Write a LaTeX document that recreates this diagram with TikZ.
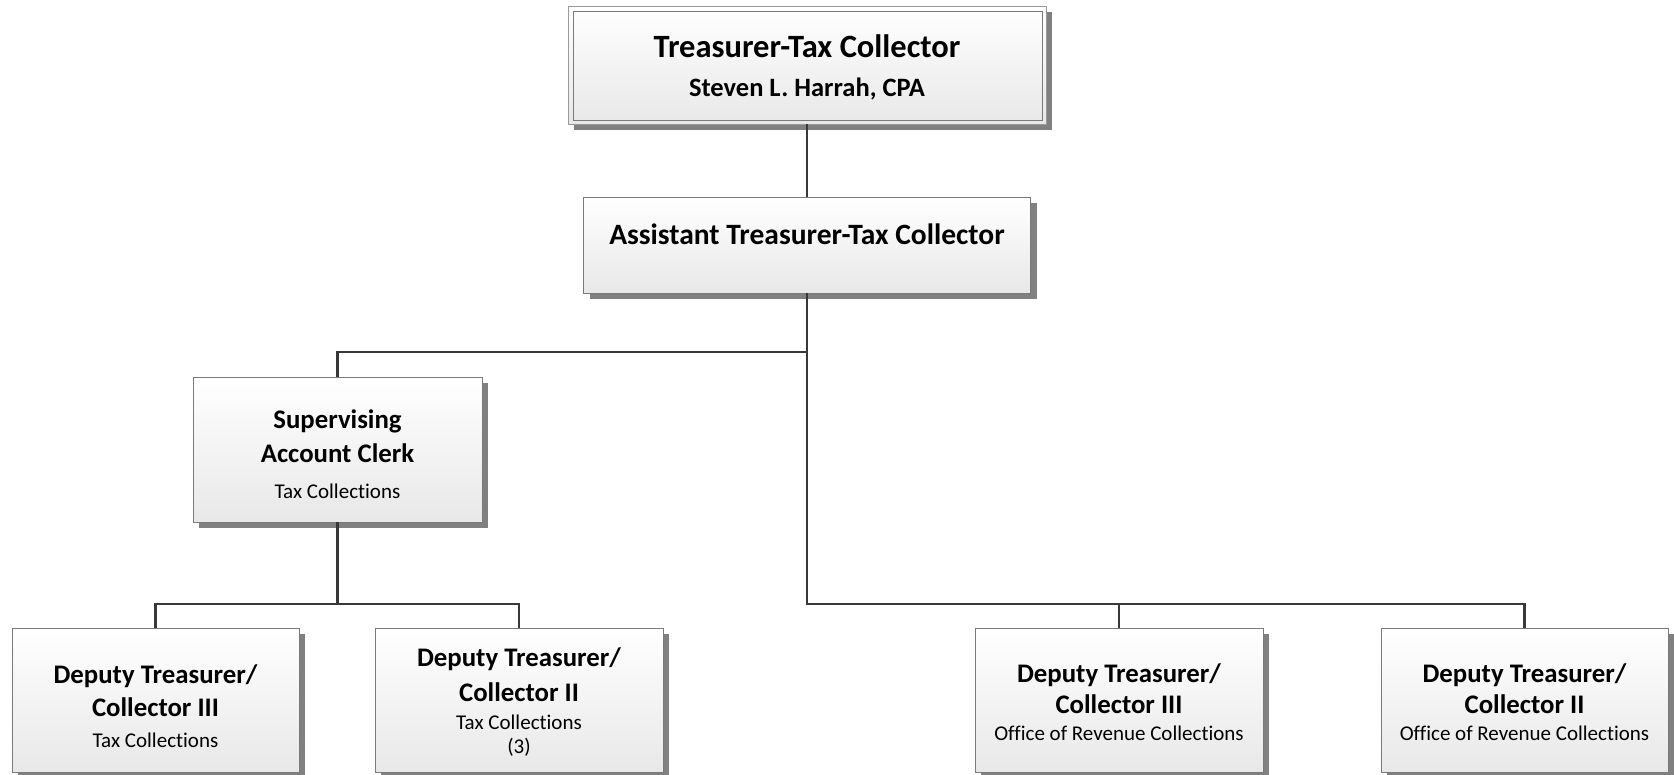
\documentclass[tikz,border=0pt]{standalone}
\usepackage{fontspec}
\setmainfont{Carlito}[RawFeature={-liga;-dlig;-clig}]
\usetikzlibrary{shadows}
\definecolor{boxborder}{HTML}{7A7A7A}
\definecolor{outerborder}{HTML}{9A9A9A}
\definecolor{shadowgray}{HTML}{808080}
\definecolor{linegray}{HTML}{383838}
\definecolor{boxbottom}{HTML}{E8E8E8}
\tikzset{
  orgbox/.style={draw=boxborder, line width=0.9pt, top color=white, bottom color=boxbottom,
    inner sep=0pt, outer sep=0pt,
    drop shadow={shadow xshift=6pt, shadow yshift=-6pt, fill=shadowgray, opacity=1}},
  conn/.style={draw=linegray, line width=2.6pt},
  titletxt/.style={anchor=base, inner sep=0pt, font=\fontsize{32.5}{36}\selectfont\bfseries},
  subtxt/.style={anchor=base, inner sep=0pt, font=\fontsize{26.5}{30}\selectfont\bfseries},
  asstxt/.style={anchor=base, inner sep=0pt, font=\fontsize{29.5}{34}\selectfont\bfseries},
  boldtxt/.style={anchor=base, inner sep=0pt, font=\fontsize{26.8}{30}\selectfont\bfseries},
  regtxt/.style={anchor=base, inner sep=0pt, font=\fontsize{21}{25}\selectfont},
}
\begin{document}
\begin{tikzpicture}[x=1pt,y=-1pt]
\useasboundingbox (0,0) rectangle (1674,775);
% boxes
\node[orgbox, draw=outerborder, minimum width=478pt, minimum height=118pt] (top) at (807,65) {};
\draw[boxborder, line width=0.9pt] ([shift={(5,5)}]top.north west) rectangle ([shift={(-4,-4)}]top.south east);
\node[orgbox, minimum width=447pt, minimum height=96pt] (asst) at (807,245) {};
\node[orgbox, minimum width=289pt, minimum height=145pt] (sup) at (337.5,449.5) {};
\node[orgbox, minimum width=287pt, minimum height=144pt] (d1) at (155.5,700) {};
\node[orgbox, minimum width=288pt, minimum height=144pt] (d2) at (519,700) {};
\node[orgbox, minimum width=288pt, minimum height=144pt] (d3) at (1119,700) {};
\node[orgbox, minimum width=287pt, minimum height=144pt] (d4) at (1524.5,700) {};
% texts
\node[titletxt] (topa) at (807,58) {Treasurer-Tax Collector};
\node[subtxt] (topb) at (807,97) {Steven L. Harrah, CPA};
\node[asstxt] (assta) at (807,245) {Assistant Treasurer-Tax Collector};
\node[boldtxt] (supa) at (337.5,429) {Supervising};
\node[boldtxt] (supb) at (337.5,463) {Account Clerk};
\node[regtxt] (supc) at (337.5,498) {Tax Collections};
\node[boldtxt] (d1a) at (155.5,683) {Deputy Treasurer/};
\node[boldtxt] (d1b) at (155.5,716) {Collector III};
\node[regtxt] (d1c) at (155.5,747) {Tax Collections};
\node[boldtxt] (d2a) at (519,666) {Deputy Treasurer/};
\node[boldtxt] (d2b) at (519,701) {Collector II};
\node[regtxt] (d2c) at (519,729) {Tax Collections};
\node[regtxt] (d2d) at (519,753) {(3)};
\node[boldtxt] (d3a) at (1119,682) {Deputy Treasurer/};
\node[boldtxt] (d3b) at (1119,713) {Collector III};
\node[regtxt] (d3c) at (1119,740) {Office of Revenue Collections};
\node[boldtxt] (d4a) at (1524.5,682) {Deputy Treasurer/};
\node[boldtxt] (d4b) at (1524.5,713) {Collector II};
\node[regtxt] (d4c) at (1524.5,740) {Office of Revenue Collections};
% connectors
\coordinate (busA) at (807,352);
\coordinate (busR) at (807,604);
\coordinate (busL) at (337.5,604);
\draw[conn] (top.south) -- (asst.north);
\draw[conn] (asst.south) -- (busR) -| (d4.north);
\draw[conn] (busA) -| (sup.north);
\draw[conn] (d3.north) -- (d3.north |- busR);
\draw[conn] (sup.south) -- (busL);
\draw[conn] (d1.north) |- (busL) -| (d2.north);
\end{tikzpicture}
\end{document}
